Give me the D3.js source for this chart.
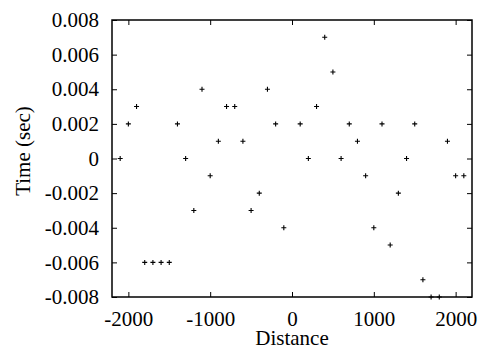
<!DOCTYPE html>
<html>
<head>
<meta charset="utf-8">
<script src="https://cdn.jsdelivr.net/npm/d3@7/dist/d3.min.js"></script>
<style>
  body { margin: 0; background: #fff; }
  text { font-family: "Liberation Serif", "Times New Roman", serif; }
</style>
</head>
<body>
<div id="chart"></div>
<script>
// distance (m) and time offset (sec); no sample at 0
var distances = [-2100, -2000, -1900, -1800, -1700, -1600, -1500, -1400, -1300, -1200, -1100,
                 -1000, -900, -800, -700, -600, -500, -400, -300, -200, -100,
                 100, 200, 300, 400, 500, 600, 700, 800, 900, 1000,
                 1100, 1200, 1300, 1400, 1500, 1600, 1700, 1800, 1900, 2000, 2100];
var times = [0, 0.002, 0.003, -0.006, -0.006, -0.006, -0.006, 0.002, 0, -0.003, 0.004,
             -0.001, 0.001, 0.003, 0.003, 0.001, -0.003, -0.002, 0.004, 0.002, -0.004,
             0.002, 0, 0.003, 0.007, 0.005, 0, 0.002, 0.001, -0.001, -0.004,
             0.002, -0.005, -0.002, 0, 0.002, -0.007, -0.008, -0.008, 0.001, -0.001, -0.001];
var xTicks = [-2000, -1000, 0, 1000, 2000];
var yTicks = [-0.008, -0.006, -0.004, -0.002, 0, 0.002, 0.004, 0.006, 0.008];

var margin = {top: 20, right: 8, bottom: 55, left: 112};
var width = 480 - margin.left - margin.right,
    height = 352 - margin.top - margin.bottom;

var x = d3.scaleLinear().domain([-2200, 2200]).range([0, width]);
var y = d3.scaleLinear().domain([-0.008, 0.008]).range([height, 0]);

var svg = d3.select("#chart").append("svg")
    .attr("width", 480)
    .attr("height", 352)
    .append("g")
    .attr("transform", "translate(" + margin.left + "," + margin.top + ")");

var fmtY = function(d) { return d === 0 ? "0" : d3.format(".3f")(d).replace("\u2212", "-"); };
var fmtX = function(d) { return String(d); };

// axes with inward ticks, mirrored on top/right
var ax = [
  {a: d3.axisBottom(x).tickValues(xTicks).tickSizeInner(-5).tickSizeOuter(0).tickPadding(14).tickFormat(fmtX), t: "translate(0," + height + ")"},
  {a: d3.axisTop(x).tickValues(xTicks).tickSizeInner(-5).tickSizeOuter(0).tickFormat(""), t: "translate(0,0)"},
  {a: d3.axisLeft(y).tickValues(yTicks).tickSizeInner(-5).tickSizeOuter(0).tickPadding(13).tickFormat(fmtY), t: "translate(0,0)"},
  {a: d3.axisRight(y).tickValues(yTicks).tickSizeInner(-5).tickSizeOuter(0).tickFormat(""), t: "translate(" + width + ",0)"}
];
ax.forEach(function(o) {
  var g = svg.append("g").attr("transform", o.t).call(o.a)
    .attr("font-family", null).attr("font-size", null);
  g.select(".domain").remove();
  g.selectAll(".tick line").attr("stroke", "#000").attr("stroke-width", 1);
  g.selectAll("text").style("font-size", "21px").attr("fill", "#000");
});

svg.append("rect")
    .attr("width", width)
    .attr("height", height)
    .attr("fill", "none")
    .attr("stroke", "#000")
    .attr("stroke-width", 1.5);

// "+" markers
svg.append("g").selectAll("path")
    .data(distances)
    .enter().append("path")
    .attr("d", function(d, i) {
      var px = x(d), py = y(times[i]);
      return "M" + (px - 2.5) + "," + py + "H" + (px + 2.5) + "M" + px + "," + (py - 2.5) + "V" + (py + 2.5);
    })
    .attr("stroke", "#000")
    .attr("stroke-width", 1.1)
    .attr("fill", "none");

svg.append("text")
    .attr("x", width / 2)
    .attr("y", height + 48)
    .attr("text-anchor", "middle")
    .style("font-size", "21px")
    .text("Distance");

svg.append("text")
    .attr("transform", "translate(" + (30 - margin.left) + "," + (151 - margin.top) + ") rotate(-90)")
    .attr("text-anchor", "middle")
    .style("font-size", "21px")
    .text("Time (sec)");
</script>
</body>
</html>
